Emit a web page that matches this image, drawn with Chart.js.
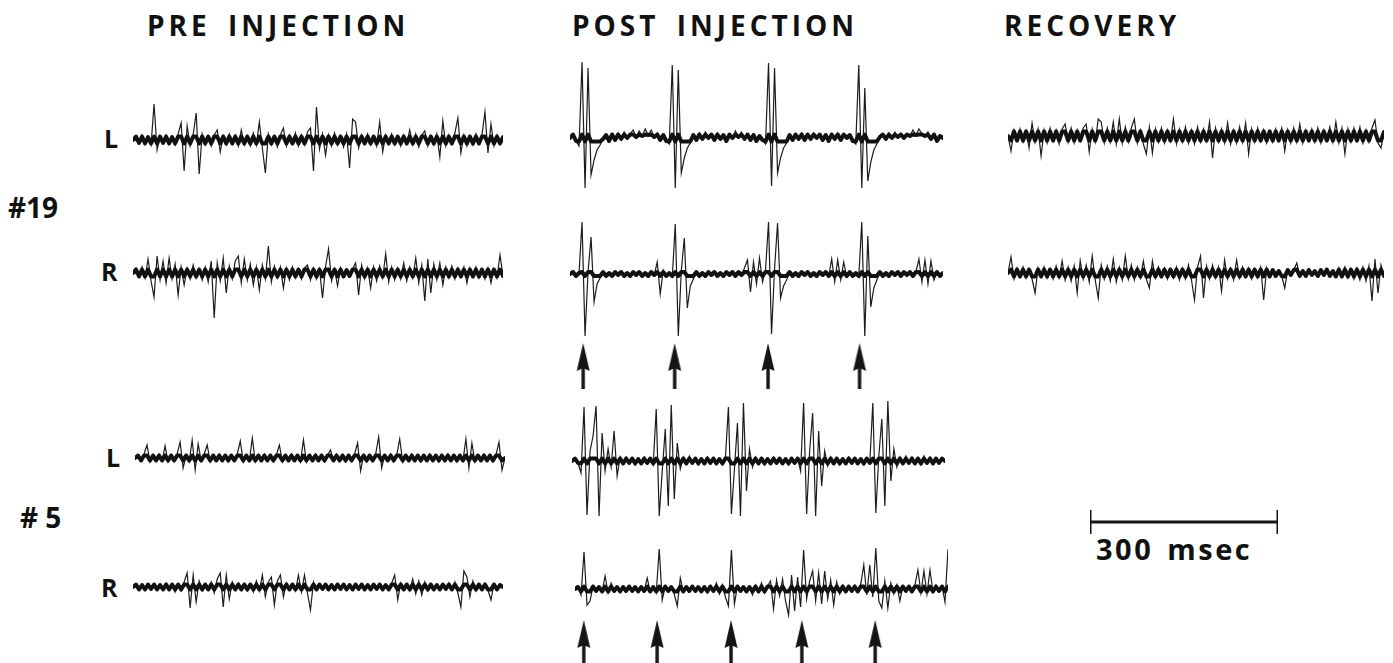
<!DOCTYPE html>
<html>
<head>
<meta charset="utf-8">
<script src="https://cdn.jsdelivr.net/npm/chart.js@4.4.1/dist/chart.umd.min.js"></script>
<style>
    html, body { margin:0; padding:0; background:#fff; }
    #fig { position:relative; width:1393px; height:663px; overflow:hidden; background:#fff; }
    .lbl { position:absolute; font-family:"Open Sans", "DejaVu Sans", sans-serif; font-weight:700; color:#111; line-height:1; white-space:pre; }
    .title { font-size:28px; letter-spacing:4px; word-spacing:6px; }
    .box { position:absolute; }
</style>
</head>
<body>
<div id="fig">
    <div class="lbl title" style="left:147px; top:11px;">PRE INJECTION</div>
    <div class="lbl title" style="left:572px; top:11px;">POST INJECTION</div>
    <div class="lbl title" style="left:1004px; top:11px;">RECOVERY</div>

    <div class="lbl" style="left:104px; top:126px; font-size:25px;">L</div>
    <div class="lbl" style="left:101px; top:259px; font-size:25px;">R</div>
    <div class="lbl" style="left:8px; top:193px; font-size:28px;">#19</div>

    <div class="lbl" style="left:106px; top:445px; font-size:25px;">L</div>
    <div class="lbl" style="left:101px; top:575px; font-size:25px;">R</div>
    <div class="lbl" style="left:20px; top:503px; font-size:28px;"># 5</div>

    <div class="lbl" style="left:1096px; top:534px; font-size:29px; letter-spacing:2.5px; word-spacing:4px;">300 msec</div>
</div>

<script>
// --- sweep timing ---
const DT = 4.8;               // msec per sample
const PX_PER_MS = 188 / 300;  // 300 msec calibration bar = 188 px
const HALF = 85;              // vertical half-range of every trace box

// --- #19 traces (amplitude, up = positive) ---
const pre19L = [0,4,-3,5,-4,3,-5,36,-10,4, -3,5,-4,3,-5,6,17,-31,14,-6, 5,27,-34,6,-5,4,-6,5,10,-12,
    4,-5,6,-4,5,-6,10,-5,4,-6, 7,-5,18,-8,-33,6,-5,4,-7,5, 12,-6,5,-4,7,-6,5,-5,8,12,
    -31,33,-9,6,-15,5,-6,7,-5,4, -7,6,-28,21,18,-8,5,-4,6,-5, 4,-6,18,-12,5,-4,6,-5,4,-6,
    5,-4,10,-5,6,-7,5,9,-6,4, -5,6,-17,19,-6,5,-4,7,22,-13, 5,-6,4,-5,6,-4,5,28,-13,16, -6,5,-4,3];

const pre19R = [0,5,-4,6,-5,14,-8,-24,17,-7, 12,-10,15,-6,9,-22,6,-12,5,-6, 8,-5,4,-7,6,-9,12,-45,10,-8,
    15,-20,7,-6,12,17,-10,14,-7,9, -12,6,-17,8,-6,27,-9,7,-5,6, -15,5,-7,6,-5,4,-6,5,8,-7,
    5,-6,4,-25,6,24,-8,4,-13,5, -4,3,-3,4,10,-22,8,-6,5,-15, 6,-8,7,-5,19,-9,6,-7,5,-6,
    10,-8,6,-5,15,-10,8,-28,14,-20, 9,-7,10,-12,6,-5,7,-6,5,-4, 6,-10,5,-4,6,-5,4,-6,5,-10, 4,-5,18,-3];

const post19L = [0,4,-3,-8,76,-50,70,-37,-22,-12, -7,-1,3,-3,4,-2,5,-1,6,0, 4,8,1,7,2,9,3,8,1,5,
    -2,3,-3,-6,73,-50,68,-35,-20,-10, -5,3,-2,5,-1,6,0,4,-2,5, -1,3,-3,4,0,7,1,6,-1,4,
    -2,3,-3,2,-2,-6,75,-48,70,-35, -20,-10,-5,3,-2,4,-1,5,-2,4, -1,5,0,4,-2,3,-3,4,-1,5,
    -2,4,0,3,-3,-6,73,-50,50,-43, -24,-12,-6,1,4,-1,5,0,6,1, 5,0,4,2,8,3,9,4,2,6, -1,4,-3,2,0];

const post19R = [0,2,-2,1,52,-62,2,37,-28,-10, -4,2,-3,1,-2,2,-1,3,-2,1, -2,2,-1,2,-3,1,-2,3,-1,12,
    -20,4,-2,1,-3,50,-62,3,36,-34, -12,-5,2,-2,1,-3,2,-1,3,-2, 1,-2,2,-1,3,-2,2,-1,6,14,
    -18,12,-10,16,-8,4,52,-60,5,51, -24,-12,-6,2,-2,1,-3,2,-1,3, -2,1,-2,2,-1,3,-2,15,-8,14,
    -6,12,-3,2,-2,1,-3,52,-62,38, -33,-14,-6,2,-2,1,-3,2,-1,3, -2,2,-1,3,-2,2,15,-8,14,-10, 13,-6,3,-2,1];

const rec19L = [0,-15,6,-5,7,-6,5,-12,13,-6, 7,-20,6,-7,8,-5,6,-8,7,12, -6,8,-7,6,-5,8,12,-16,7,-6,
    17,14,-7,8,-6,14,-8,17,-7,9, -6,8,17,-7,6,-8,-18,9,-17,7, -6,8,-7,6,-5,17,-8,7,-6,9,
    -7,6,-8,9,-6,7,-5,14,-22,8, -6,7,-7,13,-8,6,-7,9,-6,13, -18,7,-6,8,-5,6,-7,5,-6,7,
    -5,8,-15,6,-7,8,-6,12,-7,6, -5,7,-6,8,-7,6,-5,9,-6,14, -7,8,-18,7,-6,8,-5,9,-7,6, -6,8,16,-7,-12,4];

const rec19R = [0,16,-6,5,-4,6,-5,4,-6,-20, 5,-4,6,-5,4,-6,7,-5,12,-7, 6,-8,7,-20,12,-6,8,-9,17,-7,
    -25,8,-6,7,-8,14,-9,6,-7,17, -6,8,-7,6,-5,12,-6,-15,12,-5, 6,-4,5,-6,4,-5,6,-7,5,-6,
    8,-7,-27,6,17,-25,7,-6,8,-5, 6,-18,13,-6,5,-7,13,-5,6,-4, 5,-6,4,-5,6,-27,5,-4,3,-3,
    2,-3,-15,3,-2,3,10,-3,2,-3, 3,-2,2,-3,3,-2,4,-3,2,-4, 5,-4,6,-5,4,-6,5,-7,6,-8, 7,-28,14,-20,8,-3];

// --- #5 traces ---
const pre5L = [0,3,-3,4,13,-4,3,-3,4,-3, 12,-4,3,-3,4,16,-10,3,-4,18, -12,14,-3,4,13,-4,3,-3,4,-3,
    3,-4,3,-3,4,17,-4,3,-3,20, -4,3,-3,4,-3,3,-4,3,13,-4, 3,-3,4,-3,3,-4,18,-4,3,-3,
    4,-3,3,-4,3,8,-3,4,-3,3, -4,3,-3,4,15,-13,3,-4,3,-3, 4,21,-10,3,-3,4,-4,3,19,-4,
    3,-3,4,-3,3,-4,3,-3,4,-3, 3,-4,3,-3,4,-3,3,-4,3,-3, 19,-10,15,-4,3,-3,4,-3,3,-4, 3,16,-12,0];

const pre5R = [0,3,-3,2,-3,3,-2,3,-3,2, -3,4,-3,3,-5,3,-4,5,14,-21, 12,-15,6,-4,3,-3,5,-6,8,14,
    -20,12,-12,5,-3,4,-3,3,-4,3, -5,6,-4,12,-10,5,10,-18,6,12, -10,4,-3,3,-4,12,-5,12,-6,-23,
    5,-3,3,-2,3,-3,2,-3,3,-2, 3,-3,2,-3,3,-2,3,-3,2,-3, 3,-2,3,-3,2,-3,4,12,-13,4,
    -3,3,-4,8,-7,6,-8,5,-4,3, -3,2,-3,3,-2,4,-3,5,-6,-20, 16,10,-10,6,-4,3,-3,4,-3,-13, 3,-3,2,0];

const post5L = [0,3,-2,-12,54,-54,10,25,55,-55, 28,-10,12,-6,30,-15,4,-3,4,-2, 3,-4,2,-3,4,-2,3,-4,52,-55,
    -10,32,-45,56,-38,18,-8,4,-3,5, -2,3,-4,2,-3,4,-2,3,-3,2, -4,3,54,-53,-8,38,-55,58,-30,12,
    -6,4,-3,3,-4,2,-3,4,-2,3, -3,2,-4,3,-2,3,-10,58,-53,10, 48,-55,30,-25,10,-5,4,-3,3,-4,
    2,-3,4,-2,3,-3,2,-4,3,-2, 58,-52,5,42,-45,60,-20,12,-6,4, -3,5,-2,4,-3,3,-4,5,-2,4, -3,3,-2,3,0];

const post5R = [0,2,-6,37,-16,-12,3,-2,2,-3, 13,-4,6,-2,2,-3,2,-2,3,-2, 2,-3,2,-2,11,-3,2,-4,40,-11,
    3,-2,2,-5,-17,11,-3,2,-2,3, -2,2,-3,2,-4,3,-2,6,-5,4, -8,-17,39,-15,3,-2,2,-3,2,-6,
    4,-3,6,-4,3,8,-20,9,-7,10, -12,-26,14,-22,12,-18,39,-10,8,18, -12,16,-15,18,-10,9,-16,7,-5,4,
    -3,3,-2,4,-3,5,24,-6,24,-8, 41,-12,-19,8,-19,6,-5,4,-12,3, -2,3,-3,4,19,-4,18,-5,19,-3, 4,-2,3,-13,40];

// --- stimulus arrows (msec from start of post-injection sweep) ---
const arrows19 = [21, 167, 316, 462];
const arrows5 = [14, 131, 249, 362, 479];

// --- calibration bar (msec) ---
const calBar = [0, 300];

// layout: left edge, baseline (px) and thickness of the noise band of each sweep
const traces = [
    { data: pre19L,  left: 133,  base: 140, band: 3.5 },
    { data: pre19R,  left: 133,  base: 273, band: 3.5 },
    { data: post19L, left: 570,  base: 138, band: 3.5 },
    { data: post19R, left: 570,  base: 274, band: 2 },
    { data: rec19L,  left: 1008, base: 136, band: 4.5 },
    { data: rec19R,  left: 1008, base: 273, band: 3.5 },
    { data: pre5L,   left: 135,  base: 458, band: 2.5 },
    { data: pre5R,   left: 133,  base: 587, band: 2.5 },
    { data: post5L,  left: 572,  base: 461, band: 2.5 },
    { data: post5R,  left: 575,  base: 589, band: 2.5 }
];

const fig = document.getElementById('fig');

function addBox(left, top, width, height) {
    const box = document.createElement('div');
    box.className = 'box';
    box.style.left = left + 'px';
    box.style.top = top + 'px';
    box.style.width = width + 'px';
    box.style.height = height + 'px';
    const cv = document.createElement('canvas');
    box.appendChild(cv);
    fig.appendChild(box);
    return cv;
}

function bareOptions(xMax, yMin, yMax) {
    return {
        responsive: true,
        maintainAspectRatio: false,
        animation: false,
        events: [],
        layout: { padding: 0, autoPadding: false },
        plugins: { legend: { display: false }, tooltip: { enabled: false } },
        scales: {
            x: { type: 'linear', min: 0, max: xMax, display: false },
            y: { type: 'linear', min: yMin, max: yMax, display: false }
        }
    };
}

traces.forEach(t => {
    const xMax = (t.data.length - 1) * DT;
    const cv = addBox(t.left, t.base - HALF, xMax * PX_PER_MS, HALF * 2);
    const pts = t.data.map((v, i) => ({ x: i * DT, y: v }));
    // dense baseline noise: same samples, limited to the band, drawn heavy
    const bandPts = pts.map(p => ({ x: p.x, y: Math.max(-t.band, Math.min(t.band, p.y)) }));
    new Chart(cv, {
        type: 'line',
        data: {
            datasets: [
                { data: bandPts, borderColor: '#111', borderWidth: 4, borderJoinStyle: 'round', borderCapStyle: 'round',
                  pointRadius: 0, tension: 0, clip: false },
                { data: pts, borderColor: '#1c1c1c', borderWidth: 1.2, pointRadius: 0, tension: 0, clip: false }
            ]
        },
        options: bareOptions(xMax, -HALF, HALF)
    });
});

// arrow glyph used as point style
function arrowGlyph() {
    const c = document.createElement('canvas');
    c.width = 16; c.height = 46;
    const g = c.getContext('2d');
    g.fillStyle = '#151515';
    g.beginPath();
    g.moveTo(8, 0);
    g.lineTo(14.5, 28);
    g.lineTo(8, 25);
    g.lineTo(1.5, 28);
    g.closePath();
    g.fill();
    g.fillRect(6.3, 24, 3.4, 22);
    return c;
}
const glyph = arrowGlyph();

function arrowRow(times, trace, centerY) {
    const xMax = (trace.data.length - 1) * DT;
    const cv = addBox(trace.left, centerY - 25, xMax * PX_PER_MS, 50);
    new Chart(cv, {
        type: 'scatter',
        data: {
            datasets: [{
                data: times.map(ms => ({ x: ms, y: 0 })),
                pointStyle: glyph,
                pointRadius: 8,
                clip: false
            }]
        },
        options: bareOptions(xMax, -1, 1)
    });
}
arrowRow(arrows19, traces[3], 366);
arrowRow(arrows5, traces[9], 643);

// calibration bar
(function () {
    const cv = addBox(1090, 510, 300 * PX_PER_MS, 24);
    const t0 = calBar[0], t1 = calBar[1];
    new Chart(cv, {
        type: 'line',
        data: {
            datasets: [
                { data: [{ x: t0, y: 0 }, { x: t1, y: 0 }] },
                { data: [{ x: t0, y: -1 }, { x: t0, y: 1 }] },
                { data: [{ x: t1, y: -1 }, { x: t1, y: 1 }] }
            ].map(d => Object.assign(d, { borderColor: '#151515', borderWidth: 3, pointRadius: 0, clip: false }))
        },
        options: bareOptions(300, -1, 1)
    });
})();
</script>
</body>
</html>
